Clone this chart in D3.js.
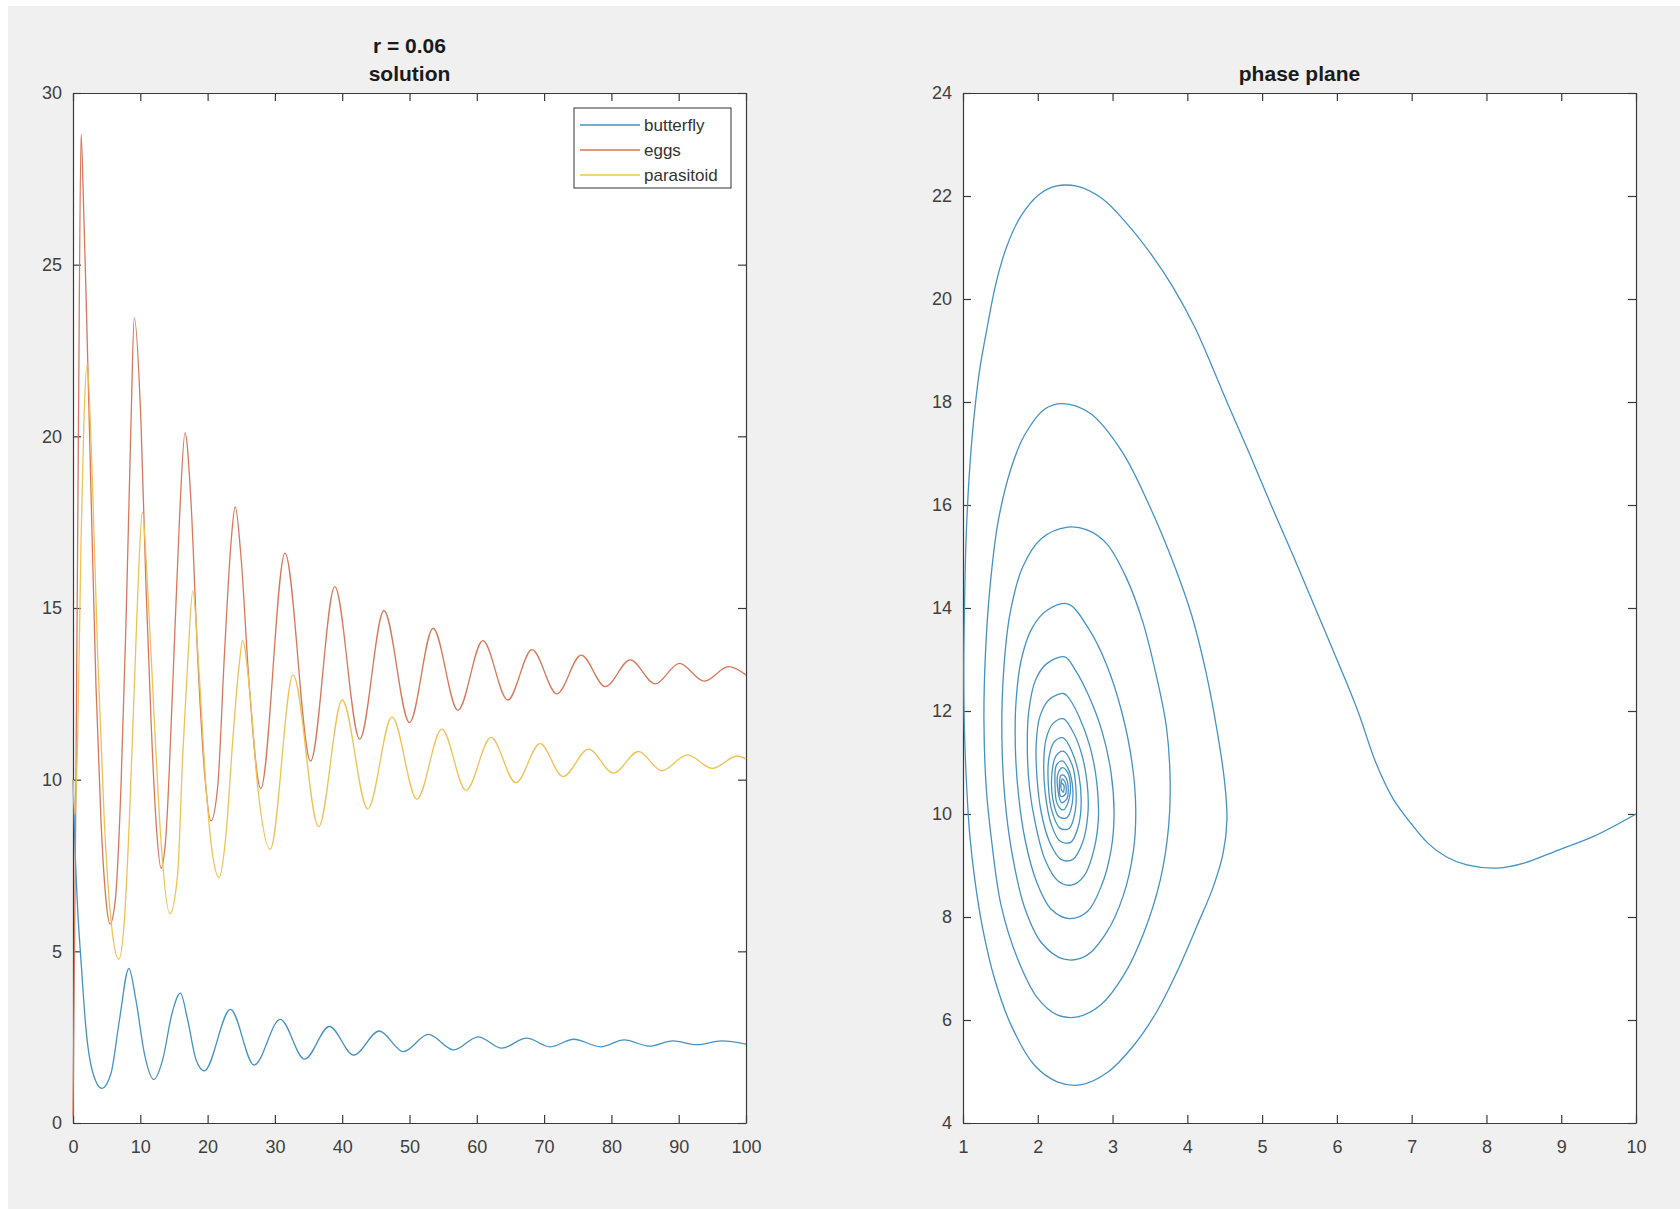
<!DOCTYPE html>
<html>
<head>
<meta charset="utf-8">
<script src="https://cdn.jsdelivr.net/npm/d3@7"></script>
<style>
  body { margin: 0; background: #fff; }
  svg { display: block; font-family: 'Liberation Sans', Arial, sans-serif; }
</style>
</head>
<body>
<svg id="fig" width="1680" height="1209"></svg>
<script>
// time series: [t, value]
const butterfly = [[0,10],[0.3,8.0],[0.7,6.2],[1.2,4.7],[1.9,2.8],[2.9,1.5],[4.3,1.01],[5.65,1.45],[6.9,3.0],[8.3,4.5],
  [9.36,3.57],[10.6,2.03],[12.0,1.27],[13.32,1.84],[14.71,3.19],[15.95,3.78],[17.04,3.0],[18.28,1.84],[19.5,1.52],
  [23.4,3.31],[26.9,1.69],[30.8,3.02],[34.4,1.86],[38.1,2.81],[41.7,1.98],[45.5,2.68],[49.1,2.08],[52.8,2.58],
  [56.6,2.13],[60.2,2.51],[63.7,2.18],[67.4,2.47],[70.9,2.22],[74.4,2.44],[78.4,2.22],[81.9,2.42],[85.6,2.24],
  [89.1,2.39],[92.7,2.28],[96.4,2.39],[100,2.30]]

const eggs = [[0,0.2],[0.4,9],[0.8,20],[1.2,28.8],[1.6,26.5],[1.93,24.2],[2.67,18.4],[3.42,12.7],[4.16,8.8],[4.9,6.5],
  [5.5,5.8],[6.29,6.5],[7.13,9.8],[7.88,14.6],[8.62,20.4],[9.1,23.45],[10.1,20.4],[10.85,15.6],[11.6,11.7],[12.33,8.8],
  [13.1,7.42],[13.82,8.4],[14.81,12.7],[15.8,17.5],[16.65,20.1],[17.53,18.1],[18.52,13.6],[19.51,10.3],[20.5,8.8],
  [21.5,9.8],[22.49,13.6],[23.48,16.9],[24.1,17.95],[24.96,16.5],[26.2,12.7],[27.9,9.74],[31.5,16.6],[35.3,10.54],
  [38.9,15.62],[42.6,11.18],[46.2,14.92],[50.0,11.66],[53.5,14.41],[57.2,12.02],[60.9,14.05],[64.6,12.32],
  [68.2,13.79],[71.9,12.5],[75.5,13.63],[79.1,12.71],[82.8,13.49],[86.5,12.79],[90.1,13.39],[93.8,12.87],
  [97.4,13.29],[100,13.05]]

const parasitoid = [[0,10],[0.3,9.0],[0.7,11.3],[1.2,17.0],[1.6,20.3],[2.1,22.1],[2.92,18.45],[3.67,13.6],[4.65,8.8],
  [5.65,5.9],[6.8,4.77],[7.63,5.9],[8.37,8.8],[9.11,12.7],[9.76,16.1],[10.3,17.8],[11.09,15.6],[12.09,11.7],[13.08,8.2],
  [14.4,6.1],[15.55,7.25],[16.3,10.7],[17.04,13.4],[17.8,15.5],[18.77,13.0],[19.76,9.8],[20.75,7.8],[21.7,7.15],
  [22.73,8.4],[23.72,11.1],[24.72,13.4],[25.2,14.05],[26.2,12.7],[27.44,9.8],[29.3,7.97],[32.7,13.05],[36.5,8.63],
  [40.0,12.32],[43.8,9.15],[47.4,11.83],[51.1,9.43],[54.8,11.47],[58.4,9.69],[62.1,11.23],[65.8,9.91],[69.4,11.05],
  [72.8,10.09],[76.6,10.89],[80.3,10.19],[84.0,10.82],[87.5,10.26],[91.3,10.72],[95.0,10.33],[98.7,10.69],[100,10.6]]

// phase plane trajectory: [butterfly, parasitoid]
const phase = [[10,10],[9.44,9.57],[8.96,9.30],[8.49,9.04],[8.15,8.95],[7.74,9.01],[7.46,9.17],[7.22,9.43],[6.99,9.82],
  [6.75,10.3],[6.52,11.0],[6.28,12.0],[6.0,13.0],[5.71,14.0],[5.42,15.0],[5.12,16.0],[4.83,17.0],[4.53,18.0],
  [4.4,18.45],[4.1,19.45],[3.8,20.25],[3.5,20.9],[3.2,21.45],[2.86,21.95],[2.52,22.19],[2.24,22.19],[2.01,22.02],[1.77,21.6],
  [1.58,21.0],[1.44,20.3],[1.33,19.5],[1.22,18.6],[1.14,17.6],[1.08,16.5],[1.04,15.3],[1.02,14.0],[1.01,12.8],
  [1.02,11.6],[1.05,10.5],[1.09,9.6],[1.16,8.7],[1.26,7.8],[1.42,6.81],[1.64,5.91],[1.95,5.13],[2.26,4.80],[2.57,4.74],
  [2.93,4.98],[3.28,5.5],[3.59,6.16],[3.86,6.93],[4.13,7.83],[4.35,8.6],[4.48,9.25],[4.53,9.9],[4.50,10.6],[4.40,11.6],
  [4.25,12.75],[4.06,13.85],[3.82,14.85],[3.52,15.9],[3.12,17.05],[2.70,17.78],[2.33,17.97],
  [2.09,17.86],[1.82,17.35],[1.64,16.70],[1.47,15.68],[1.36,14.39],[1.30,13.11],[1.28,11.82],[1.31,10.53],[1.38,9.51],
  [1.51,8.22],[1.73,7.19],[2.0,6.42],[2.26,6.10],[2.53,6.06],[2.84,6.29],[3.15,6.87],[3.42,7.70],[3.64,8.73],[3.75,9.76],
  [3.77,10.66],[3.72,11.69],[3.58,12.72],[3.40,13.75],[3.18,14.6],[2.92,15.25],[2.65,15.52],[2.40,15.57],
  [2.05,15.35],[1.80,14.8],[1.63,13.9],[1.54,12.7],[1.52,11.5],[1.56,10.3],[1.66,9.2],[1.82,8.2],[2.05,7.5],[2.35,7.18],
  [2.65,7.25],[2.92,7.7],[3.14,8.4],[3.28,9.3],[3.31,10.1],[3.26,11.0],[3.12,12.0],[2.92,12.9],[2.68,13.6],[2.40,14.08],
  [2.12,13.95],[1.92,13.6],[1.78,13.0],[1.71,12.2],[1.70,11.3],[1.74,10.4],[1.83,9.5],[1.98,8.7],[2.18,8.15],[2.42,7.97],
  [2.66,8.1],[2.85,8.6],[2.98,9.3],[3.02,10.0],[2.98,10.8],[2.86,11.6],[2.68,12.3],[2.50,12.8],[2.36,13.05],
  [2.12,12.92],[1.97,12.6],[1.88,12.0],[1.86,11.3],[1.89,10.5],[1.97,9.8],[2.10,9.1],[2.27,8.7],[2.45,8.62],[2.62,8.8],
  [2.75,9.3],[2.81,9.9],[2.79,10.6],[2.70,11.3],[2.55,11.9],[2.40,12.28],[2.34,12.34],
  [2.15,12.22],[2.03,11.9],[1.98,11.4],[1.99,10.7],[2.05,10.0],[2.16,9.45],[2.31,9.12],[2.47,9.12],[2.60,9.45],
  [2.67,10.0],[2.66,10.6],[2.58,11.2],[2.45,11.65],[2.34,11.85],
  [2.20,11.75],[2.11,11.45],[2.08,11.0],[2.10,10.4],[2.18,9.8],[2.30,9.47],[2.44,9.45],[2.54,9.75],[2.58,10.2],
  [2.55,10.75],[2.46,11.2],[2.34,11.48],
  [2.22,11.4],[2.15,11.1],[2.14,10.6],[2.19,10.05],[2.30,9.72],[2.42,9.72],[2.50,10.05],[2.51,10.5],[2.46,10.95],[2.34,11.22],
  [2.24,11.12],[2.19,10.8],[2.20,10.3],[2.28,9.95],[2.39,9.93],[2.46,10.2],[2.46,10.6],[2.40,10.9],[2.33,11.03],
  [2.25,10.95],[2.23,10.6],[2.26,10.2],[2.34,10.08],[2.42,10.3],[2.43,10.65],[2.38,10.85],[2.33,10.9],
  [2.27,10.78],[2.27,10.45],[2.32,10.22],[2.39,10.3],[2.40,10.6],[2.35,10.75],[2.31,10.75],
  [2.29,10.6],[2.31,10.34],[2.37,10.38],[2.37,10.6],[2.33,10.68],[2.31,10.5],[2.34,10.42],[2.35,10.56],[2.32,10.6]]

const seriesNames = ['butterfly', 'eggs', 'parasitoid']
const colors = ['#4592c4', '#d9775a', '#eec257']
const tTicks = d3.range(0, 101, 10)
const solTicks = [0, 5, 10, 15, 20, 25, 30]
const phaseXTicks = d3.range(1, 11)
const phaseYTicks = d3.range(4, 25, 2)

window.addEventListener('load', () => {
  const svg = d3.select('#fig')

  svg.append('rect')
    .attr('x', 8).attr('y', 6)
    .attr('width', 1672).attr('height', 1203)
    .attr('fill', '#f0f0f0')

  const top = 93, bottom = 1123

  // ---- left: solution ----
  const x = d3.scaleLinear().domain([0, 100]).range([73, 746])
  const y = d3.scaleLinear().domain([0, 30]).range([bottom, top])
  drawFrame(x, y, tTicks, solTicks)

  const line = d3.line()
    .curve(d3.curveMonotoneX)
    .x((d) => x(d[0]))
    .y((d) => y(d[1]))

  svg.append('g')
    .attr('fill', 'none')
    .attr('stroke-width', 1.3)
    .selectAll('path')
    .data([butterfly, eggs, parasitoid])
    .enter()
    .append('path')
    .attr('stroke', (d, i) => colors[i])
    .attr('d', line)

  svg.append('text')
    .attr('x', (x.range()[0] + x.range()[1]) / 2).attr('y', 53)
    .attr('text-anchor', 'middle')
    .attr('font-size', 21).attr('font-weight', 'bold').attr('fill', '#1a1a1a')
    .text('r = 0.06')
  svg.append('text')
    .attr('x', (x.range()[0] + x.range()[1]) / 2).attr('y', 81)
    .attr('text-anchor', 'middle')
    .attr('font-size', 21).attr('font-weight', 'bold').attr('fill', '#1a1a1a')
    .text('solution')

  // legend
  const lg = svg.append('g').attr('transform', 'translate(574,108)')
  lg.append('rect')
    .attr('width', 157).attr('height', 80)
    .attr('fill', '#fff').attr('stroke', '#333').attr('stroke-width', 1)
  const items = lg.selectAll('g.item')
    .data(seriesNames)
    .enter()
    .append('g')
    .attr('transform', (d, i) => `translate(0,${17 + i * 25})`)
  items.append('line')
    .attr('x1', 6).attr('x2', 66)
    .attr('stroke', (d, i) => colors[i]).attr('stroke-width', 1.3)
  items.append('text')
    .attr('x', 70).attr('dy', '0.35em')
    .attr('font-size', 17).attr('fill', '#333')
    .text((d) => d)

  // ---- right: phase plane ----
  const px = d3.scaleLinear().domain([1, 10]).range([963, 1636])
  const py = d3.scaleLinear().domain([4, 24]).range([bottom, top])
  drawFrame(px, py, phaseXTicks, phaseYTicks)

  svg.append('clipPath').attr('id', 'pclip')
    .append('rect')
    .attr('x', 963).attr('y', top)
    .attr('width', 673).attr('height', bottom - top)

  svg.append('path')
    .datum(phase)
    .attr('clip-path', 'url(#pclip)')
    .attr('fill', 'none')
    .attr('stroke', colors[0])
    .attr('stroke-width', 1.3)
    .attr('d', d3.line()
      .curve(d3.curveCatmullRom.alpha(0.5))
      .x((d) => px(d[0]))
      .y((d) => py(d[1])))

  svg.append('text')
    .attr('x', (px.range()[0] + px.range()[1]) / 2).attr('y', 81)
    .attr('text-anchor', 'middle')
    .attr('font-size', 21).attr('font-weight', 'bold').attr('fill', '#1a1a1a')
    .text('phase plane')

  function drawFrame(xs, ys, xt, yt) {
    const x0 = xs.range()[0], x1 = xs.range()[1]
    const y0 = ys.range()[0], y1 = ys.range()[1]
    svg.append('rect')
      .attr('x', x0).attr('y', y1)
      .attr('width', x1 - x0).attr('height', y0 - y1)
      .attr('fill', '#fff')

    const axes = [
      [d3.axisBottom(xs).tickValues(xt).tickPadding(17), `translate(0,${y0})`],
      [d3.axisTop(xs).tickValues(xt).tickFormat(''), `translate(0,${y1})`],
      [d3.axisLeft(ys).tickValues(yt).tickPadding(11), `translate(${x0},0)`],
      [d3.axisRight(ys).tickValues(yt).tickFormat(''), `translate(${x1},0)`]
    ]
    axes.forEach(([ax, tr]) => {
      const g = svg.append('g')
        .attr('transform', tr)
        .call(ax.tickSizeInner(-8).tickSizeOuter(0))
      g.select('.domain').attr('stroke', '#3a3a3a').attr('stroke-width', 1.2)
      g.selectAll('.tick line').attr('stroke', '#3a3a3a').attr('stroke-width', 1.2)
      g.selectAll('.tick text')
        .attr('font-family', "'Liberation Sans', Arial, sans-serif")
        .attr('font-size', 18).attr('fill', '#404040')
    })
  }
})
</script>
</body>
</html>
